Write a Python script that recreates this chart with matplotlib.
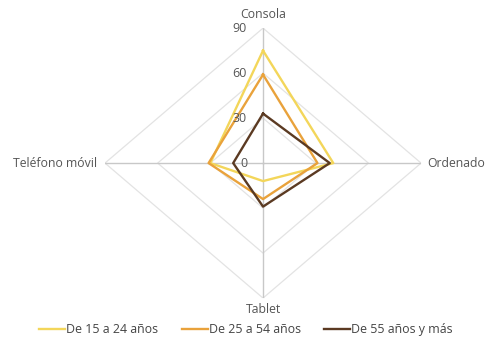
import numpy as np
import matplotlib
matplotlib.use("Agg")
import matplotlib.pyplot as plt
from matplotlib.transforms import offset_copy

plt.rcParams["font.family"] = ["Open Sans", "DejaVu Sans"]

categorias = ["Consola", "Ordenado", "Tablet", "Teléfono móvil"]
grupos = ["De 15 a 24 años", "De 25 a 54 años", "De 55 años y más"]
jovenes = [75, 40, 12, 30]
adultos = [59, 31, 24, 31]
mayores = [33, 38, 29, 17]
colores = ["#F3D65A", "#E9A23B", "#5B3A22"]
ticks = [0, 30, 60, 90]

fig = plt.figure(figsize=(4.87, 3.47), dpi=100)
ax = fig.add_axes([0.2156, 0.141, 0.649, 0.778], projection="polar")
ax.set_aspect("auto")
ax.set_theta_zero_location("N")
ax.set_theta_direction(-1)
ax.set_ylim(0, 90)
ax.grid(False)
ax.spines["polar"].set_visible(False)
ax.set_xticks([])
ax.set_yticks([])
ax.patch.set_alpha(0)

angulos = np.linspace(0, 2 * np.pi, len(categorias), endpoint=False)
cerrado = np.append(angulos, angulos[0])

# rejilla en forma de rombo
for r in ticks[1:]:
    ax.plot(cerrado, [r] * len(cerrado), color="#E3E3E3", lw=0.9, zorder=1)
for a in angulos:
    ax.plot([a, a], [0, 90], color="#C8C8C8", lw=1.0, zorder=1)

for valores, color, nombre in zip([jovenes, adultos, mayores], colores, grupos):
    ax.plot(cerrado, valores + valores[:1], color=color, lw=1.7,
            label=nombre, zorder=3)

# etiquetas del eje radial
trans = offset_copy(ax.transData, fig=fig, x=-16, y=0, units="dots")
for t in ticks:
    ax.text(0, t, str(t), transform=trans, ha="right", va="center",
            fontsize=9, color="#555555", zorder=4)

# etiquetas de las categorías
ax.text(angulos[0], 90, categorias[0], transform=offset_copy(ax.transData, fig=fig, y=14, units="dots"),
        ha="center", va="center", fontsize=8.8, color="#555555")
ax.text(angulos[1], 90, categorias[1], transform=offset_copy(ax.transData, fig=fig, x=6, units="dots"),
        ha="left", va="center", fontsize=8.8, color="#555555")
ax.text(angulos[2], 90, categorias[2], transform=offset_copy(ax.transData, fig=fig, y=-11, units="dots"),
        ha="center", va="center", fontsize=8.8, color="#555555")
ax.text(angulos[3], 90, categorias[3], transform=offset_copy(ax.transData, fig=fig, x=-8, units="dots"),
        ha="right", va="center", fontsize=8.8, color="#555555")

fig.legend(loc="center", bbox_to_anchor=(0.505, 0.05), ncol=3, frameon=False,
           fontsize=8.9, handlelength=2.1, handletextpad=0.1, columnspacing=1.9,
           labelcolor="#444444")

fig.savefig("out.png", dpi=100)
